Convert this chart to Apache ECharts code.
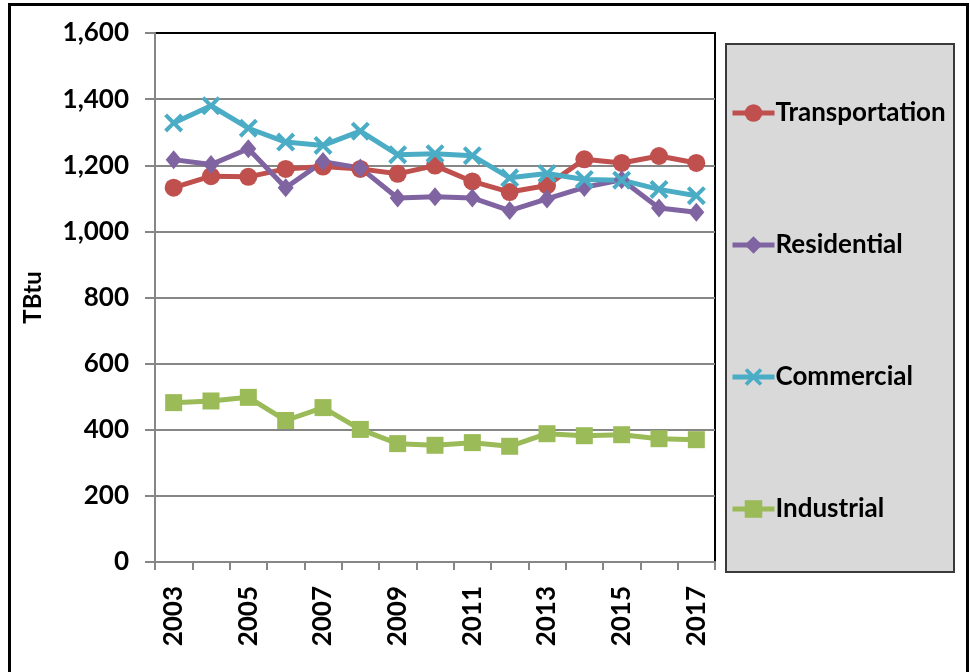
<!DOCTYPE html>
<html>
<head>
<meta charset="utf-8">
<script src="https://cdn.jsdelivr.net/npm/echarts@6/dist/echarts.min.js"></script>
<style>
  html, body { margin: 0; padding: 0; background: #fff; }
  #chart { width: 970px; height: 672px; }
</style>
</head>
<body>
<div id="chart"></div>
<script>
// Energy consumption by sector, TBtu
const years = ['2003','2004','2005','2006','2007','2008','2009','2010','2011','2012','2013','2014','2015','2016','2017'];
const transportation = [1132, 1167, 1165, 1189, 1196, 1189, 1174, 1199, 1151, 1119, 1139, 1218, 1207, 1228, 1207];
const residential    = [1217, 1202, 1250, 1132, 1211, 1192, 1101, 1105, 1101, 1063, 1098, 1133, 1156, 1071, 1058];
const commercial     = [1328, 1380, 1312, 1270, 1260, 1303, 1232, 1235, 1229, 1162, 1175, 1157, 1155, 1127, 1108];
const industrial     = [482, 487, 498, 428, 467, 401, 358, 353, 361, 350, 388, 382, 385, 373, 370];
const yTicks = { min: 0, max: 1600, interval: 200 };

const FONT = 'Lato';
const crossPath = 'path://M3,0 L10,7 L17,0 L20,3 L13,10 L20,17 L17,20 L10,13 L3,20 L0,17 L7,10 L0,3 Z';

function lineSeries(name, data, color, symbol, size) {
  return {
    name: name,
    type: 'line',
    data: data,
    symbol: symbol,
    symbolSize: size,
    showAllSymbol: true,
    lineStyle: { color: color, width: 5 },
    itemStyle: { color: color, borderColor: color, borderWidth: 0 },
    emphasis: { disabled: true },
    animation: false
  };
}

const chart = echarts.init(document.getElementById('chart'), null, { renderer: 'canvas' });
chart.setOption({
  animation: false,
  backgroundColor: '#ffffff',
  textStyle: { fontFamily: FONT },
  graphic: [
    { type: 'rect', z: -10, silent: true,
      shape: { x: 9.5, y: 4.5, width: 958, height: 720 },
      style: { fill: '#ffffff', stroke: '#000000', lineWidth: 3 } },
    { type: 'rect', z: -5, silent: true,
      shape: { x: 726, y: 44, width: 228, height: 528 },
      style: { fill: '#D9D9D9', stroke: '#3a3a3a', lineWidth: 2 } }
  ],
  grid: {
    left: 155, right: 255, top: 33, bottom: 110,
    show: true, borderColor: '#000000', borderWidth: 2, backgroundColor: 'transparent'
  },
  legend: {
    orient: 'vertical',
    left: 730, top: 100,
    padding: 0,
    itemGap: 106,
    itemWidth: 42, itemHeight: 22,
    lineStyle: { width: 5 },
    textStyle: { fontFamily: FONT, fontWeight: 'bold', fontSize: 26, color: '#000', padding: [0, 0, 0, -4] },
    data: ['Transportation', 'Residential', 'Commercial', 'Industrial'],
    selectedMode: false
  },
  xAxis: {
    type: 'category',
    data: years,
    boundaryGap: true,
    axisLine: { lineStyle: { color: '#868686', width: 2 } },
    axisTick: { show: true, interval: 0, length: 8, lineStyle: { color: '#868686', width: 2 } },
    axisLabel: {
      interval: 1, rotate: 90, margin: 24,
      fontFamily: FONT, fontWeight: 'bold', fontSize: 26, color: '#000'
    },
    splitLine: { show: false }
  },
  yAxis: {
    type: 'value',
    min: yTicks.min, max: yTicks.max, interval: yTicks.interval,
    name: 'TBtu',
    nameLocation: 'middle',
    nameRotate: 90,
    nameGap: 110,
    nameTextStyle: { fontFamily: FONT, fontWeight: 'bold', fontSize: 24, color: '#000' },
    axisLine: { show: true, lineStyle: { color: '#868686', width: 2 } },
    axisTick: { show: true, length: 10, lineStyle: { color: '#868686', width: 2 } },
    axisLabel: {
      margin: 26,
      fontFamily: FONT, fontWeight: 'bold', fontSize: 26, color: '#000',
      formatter: v => v.toLocaleString('en-US')
    },
    splitLine: { show: true, showMaxLine: false, lineStyle: { color: '#868686', width: 2 } }
  },
  series: [
    lineSeries('Transportation', transportation, '#C0504D', 'circle', 18),
    lineSeries('Residential', residential, '#8064A2', 'diamond', [16, 19]),
    lineSeries('Commercial', commercial, '#4BACC6', crossPath, 19),
    lineSeries('Industrial', industrial, '#9BBB59', 'rect', 17)
  ]
});
</script>
</body>
</html>
